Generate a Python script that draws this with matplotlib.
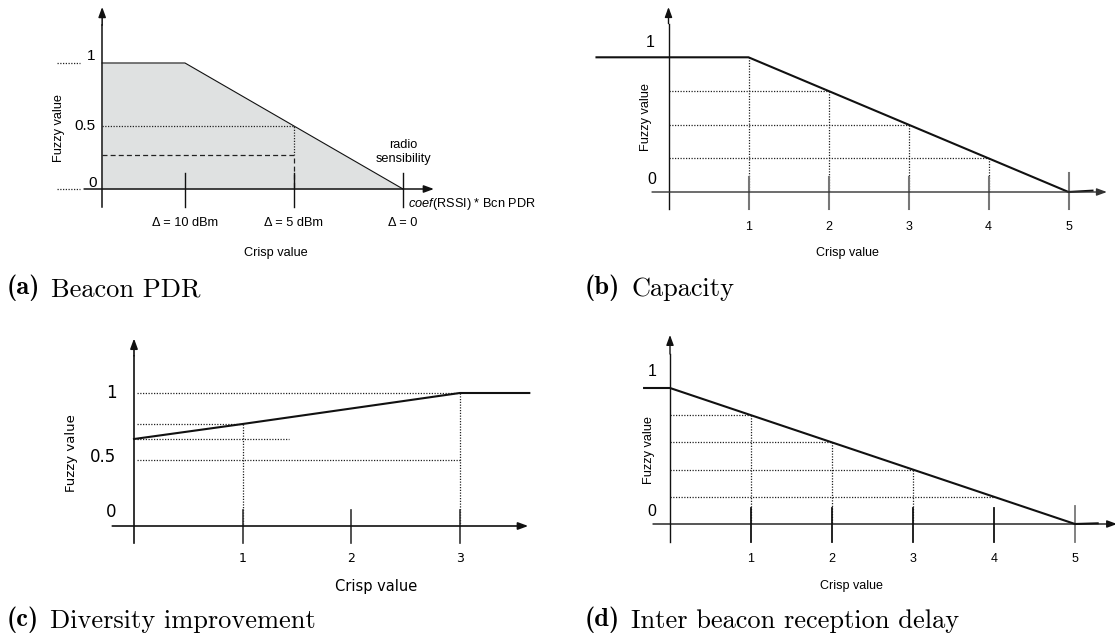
import matplotlib
matplotlib.use('Agg')
import matplotlib.pyplot as plt
import numpy as np

plt.rcParams['font.family'] = 'Liberation Sans'
plt.rcParams['mathtext.fontset'] = 'custom'
plt.rcParams['mathtext.it'] = 'Liberation Sans:italic'
plt.rcParams['mathtext.rm'] = 'Liberation Sans'

W, H = 1115, 641

# (a) Beacon PDR: membership vs RSSI margin (dBm above radio sensibility)
a_delta = [13.8, 10, 0]
a_fuzzy = [1, 1, 0]
a_ticks = [10, 5, 0]
a_tick_labels = ['Δ = 10 dBm', 'Δ = 5 dBm', 'Δ = 0']
a_read_x = 5
a_read_dashed = 0.27

# (b) Capacity
b_crisp = [-0.9, 1, 5, 5.3]
b_fuzzy = [1, 1, 0, 0.01]
b_ticks = [1, 2, 3, 4, 5]
b_hguides = [2, 3, 4]
b_vguides = [1, 2, 3, 4]

# (c) Diversity improvement
c_crisp = [0, 1, 3, 3.64]
c_fuzzy = [0.654, 0.767, 1, 1]
c_ticks = [1, 2, 3]
c_levels = [1.0, 0.767, 0.654, 0.5]
c_level_ends = [3, 1, 1.43, 3]
c_vguides = [1, 3]

# (d) Inter beacon reception delay
d_crisp = [-0.32, 0, 5, 5.28]
d_fuzzy = [1, 1, 0, 0.005]
d_ticks = [1, 2, 3, 4, 5]
d_hguides = [1, 2, 3, 4]
d_vguides = [1, 2, 3]

captions = [('(a)', 'Beacon PDR'), ('(b)', 'Capacity'),
            ('(c)', 'Diversity improvement'), ('(d)', 'Inter beacon reception delay')]

fig = plt.figure(figsize=(W / 100, H / 100), dpi=100)

DOT = (0, (1, 1.2))
DASH = (0, (4, 2.5))
GUIDE = '#222'


def panel(box, ox, oy, sx, sy):
    # box in figure pixels, (ox, oy) pixel of data origin, sx/sy pixels per unit
    L, T, R, B = box
    ax = fig.add_axes([L / W, 1 - B / H, (R - L) / W, (B - T) / H])
    ax.set_xlim((L - ox) / sx, (R - ox) / sx)
    ax.set_ylim((oy - B) / sy, (oy - T) / sy)
    ax.axis('off')
    return ax


def arrow(ax, start, end, lw=1.0, color='#111'):
    ax.annotate('', xy=end, xytext=start, annotation_clip=False,
                arrowprops=dict(arrowstyle='-|>,head_length=0.6,head_width=0.22',
                                lw=lw, color=color, shrinkA=0, shrinkB=0))


def label(ax, s, xy, dx, dy, **kw):
    kw.setdefault('ha', 'center')
    kw.setdefault('va', 'center')
    return ax.annotate(s, xy=xy, xytext=(dx, dy), textcoords='offset pixels',
                       annotation_clip=False, **kw)


def ftext(x, y, s, **kw):
    return fig.text(x / W, 1 - y / H, s, **kw)


def caption(ax, x, y, tag, text):
    t = ftext(x, y, tag, fontfamily='cmb10', fontsize=19, va='center')
    ax.annotate(text, xy=(1, 0), xycoords=t, xytext=(11, 0), textcoords='offset pixels',
                fontfamily='cmr10', fontsize=19, va='bottom', ha='left',
                annotation_clip=False)


# ---------------- (a) ----------------
ax = panel((0, 0, 557, 320), 403, 189, -21.8, 126)
yax = a_delta[0]
ax.fill_between(a_delta, a_fuzzy, 0, color='#dfe1e1', lw=0)
ax.plot(a_delta, a_fuzzy, color='#111', lw=0.8, clip_on=False)
ax.plot([yax, yax], [-0.143, 1.3], color='#111', lw=1.1)
arrow(ax, (yax, 1.3), (yax, 1.445), lw=1.1)
arrow(ax, (14.63, 0), (-1.42, 0), lw=1.1)
for lvl in [0, 1]:
    ax.plot([15.87, 14.82], [lvl, lvl], color=GUIDE, lw=0.9, ls=DOT)
r05 = np.interp(a_read_x, a_delta[::-1], a_fuzzy[::-1])
ax.plot([yax, a_read_x, a_read_x], [r05, r05, a_read_dashed], color=GUIDE, lw=0.9, ls=DOT)
ax.plot([yax, a_read_x, a_read_x], [a_read_dashed, a_read_dashed, 0], color=GUIDE, lw=0.9, ls=DASH)
for tx in a_ticks:
    ax.plot([tx, tx], [-0.143, 0.127], color='#111', lw=1.0)
for tx, tl in zip(a_ticks, a_tick_labels):
    label(ax, tl, (tx, 0), 0, -34, fontsize=9.2)
label(ax, '1', (yax, 1), -7, 3, ha='right', va='baseline', fontsize=11)
label(ax, '0.5', (yax, 0.5), -7, 0, ha='right', fontsize=11)
label(ax, '0', (yax, 0), -5, 2, ha='right', va='baseline', fontsize=11)
label(ax, r'$\mathit{coef}$(RSSI) * Bcn PDR', (0, 0), 5, -15, ha='left', fontsize=9.2)
label(ax, 'radio\nsensibility', (0, 0), 0, 37, fontsize=9.2, linespacing=1.2)
ftext(59, 128, 'Fuzzy value', rotation=90, ha='center', va='center', fontsize=9.2)
ftext(276, 253, 'Crisp value', ha='center', va='center', fontsize=9.2)
caption(ax, 7, 288, *captions[0])

# ---------------- (b) ----------------
ax = panel((557, 0, 1115, 320), 668.5, 192, 80, 134.7)
for gx in b_hguides:
    gy = np.interp(gx, b_crisp, b_fuzzy)
    ax.plot([0, gx], [gy, gy], color=GUIDE, lw=0.9, ls=DOT)
for gx in b_vguides:
    gy = np.interp(gx, b_crisp, b_fuzzy)
    ax.plot([gx, gx], [gy, 0], color=GUIDE, lw=0.9, ls=DOT)
for tx in b_ticks:
    ax.plot([tx, tx], [-0.126, 0.141 if tx == 5 else 0.111], color='#777', lw=1.5)
    label(ax, str(tx), (tx, 0), 0, -35, fontsize=9)
ax.plot([0, 0], [-0.126, 1.25], color='#111', lw=1.0)
arrow(ax, (0, 1.25), (0, 1.373))
arrow(ax, (-0.206, 0), (5.48, 0), color='#333')
ax.plot(b_crisp, b_fuzzy, color='#111', lw=1.5, clip_on=False)
label(ax, '1', (0, 1), -18.5, 14.6, fontsize=11.5)
label(ax, '0', (0, 0), -16.5, 13, fontsize=11.5)
ftext(646, 117, 'Fuzzy value', rotation=90, ha='center', va='center', fontsize=9.2)
ftext(847, 253, 'Crisp value', ha='center', va='center', fontsize=9)
caption(ax, 585, 288, *captions[1])

# ---------------- (c) ----------------
ax = panel((0, 320, 557, 641), 134, 526, 108.6, 133)
for lvl, end in zip(c_levels, c_level_ends):
    ax.plot([0.03, end], [lvl, lvl], color=GUIDE, lw=0.9, ls=DOT)
for gx in c_vguides:
    gy = np.interp(gx, c_crisp, c_fuzzy)
    ax.plot([gx, gx], [gy, 0], color=GUIDE, lw=0.9, ls=DOT)
for tx in c_ticks:
    ax.plot([tx, tx], [-0.128, 0.12], color='#333', lw=1.2)
    label(ax, str(tx), (tx, 0), 0, -33, fontsize=9, fontfamily='DejaVu Sans')
ax.plot([0, 0], [-0.128, 1.28], color='#111', lw=1.2)
arrow(ax, (0, 1.28), (0, 1.41), lw=1.2)
arrow(ax, (-0.2, 0), (3.63, 0), lw=1.2)
ax.plot(c_crisp, c_fuzzy, color='#111', lw=1.5, clip_on=False)
label(ax, '1', (0, 1), -23, 0, fontsize=12, fontfamily='DejaVu Sans')
label(ax, '0.5', (0, 0.5), -31, 2.5, fontsize=12, fontfamily='DejaVu Sans')
label(ax, '0', (0, 0), -23, 14, fontsize=12, fontfamily='DejaVu Sans')
ftext(72, 453, 'Fuzzy value', rotation=90, ha='center', va='center', fontsize=9.5,
      fontfamily='DejaVu Sans')
ftext(376, 586, 'Crisp value', ha='center', va='center', fontsize=10.5, fontfamily='DejaVu Sans')
caption(ax, 7, 620, *captions[2])

# ---------------- (d) ----------------
ax = panel((557, 320, 1115, 641), 670, 524, 81, 136)
for gx in d_hguides:
    gy = np.interp(gx, d_crisp, d_fuzzy)
    ax.plot([0, gx], [gy, gy], color=GUIDE, lw=0.9, ls=DOT)
for gx in d_vguides:
    gy = np.interp(gx, d_crisp, d_fuzzy)
    ax.plot([gx, gx], [gy, 0], color=GUIDE, lw=0.9, ls=DOT)
for tx in d_ticks:
    ax.plot([tx, tx], [-0.132, 0.13 if tx == 5 else 0.118],
            color='#777' if tx == 5 else '#111', lw=1.3)
    label(ax, str(tx), (tx, 0), 0, -35, fontsize=9)
ax.plot([0, 0], [-0.132, 1.25], color='#111', lw=1.0)
arrow(ax, (0, 1.25), (0, 1.39))
arrow(ax, (-0.21, 0), (5.52, 0))
ax.plot(d_crisp, d_fuzzy, color='#111', lw=1.5, clip_on=False)
label(ax, '1', (0, 1), -18, 16, fontsize=11.5)
label(ax, '0', (0, 0), -18, 13, fontsize=11.5)
ftext(649, 450, 'Fuzzy value', rotation=90, ha='center', va='center', fontsize=9.2)
ftext(851, 586, 'Crisp value', ha='center', va='center', fontsize=9)
caption(ax, 585, 620, *captions[3])

fig.savefig('out.png', dpi=100)
